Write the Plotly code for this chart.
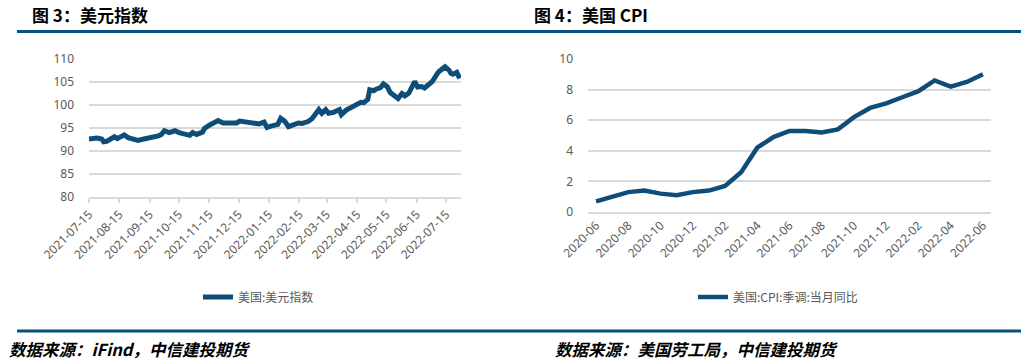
import plotly.graph_objects as go

# ---- Data: US Dollar Index ----
dxy_dates = [
    "2021-07-15", "2021-07-19", "2021-07-23", "2021-07-28", "2021-07-30", "2021-08-02",
    "2021-08-06", "2021-08-10", "2021-08-13", "2021-08-17", "2021-08-20", "2021-08-24",
    "2021-08-30", "2021-09-03", "2021-09-09", "2021-09-14", "2021-09-20", "2021-09-24",
    "2021-09-27", "2021-09-30", "2021-10-05", "2021-10-11", "2021-10-15", "2021-10-21",
    "2021-10-26", "2021-10-29", "2021-11-02", "2021-11-08", "2021-11-10", "2021-11-15",
    "2021-11-19", "2021-11-24", "2021-11-29", "2021-12-03", "2021-12-08", "2021-12-13",
    "2021-12-16", "2021-12-21", "2021-12-27", "2021-12-31", "2022-01-05", "2022-01-10",
    "2022-01-13", "2022-01-17", "2022-01-24", "2022-01-27", "2022-01-31", "2022-02-04",
    "2022-02-09", "2022-02-14", "2022-02-18", "2022-02-24", "2022-02-28", "2022-03-03",
    "2022-03-07", "2022-03-10", "2022-03-14", "2022-03-17", "2022-03-22", "2022-03-28",
    "2022-03-30", "2022-04-04", "2022-04-08", "2022-04-13", "2022-04-15", "2022-04-19",
    "2022-04-22", "2022-04-26", "2022-04-28", "2022-05-02", "2022-05-05", "2022-05-09",
    "2022-05-12", "2022-05-16", "2022-05-19", "2022-05-24", "2022-05-27", "2022-05-31",
    "2022-06-03", "2022-06-07", "2022-06-09", "2022-06-13", "2022-06-16", "2022-06-20",
    "2022-06-23", "2022-06-28", "2022-07-01", "2022-07-06", "2022-07-08", "2022-07-14",
    "2022-07-18", "2022-07-20", "2022-07-22", "2022-07-26", "2022-07-29",
]
dxy_values = [
    92.6, 92.8, 92.8, 92.6, 92.0, 92.1,
    92.6, 93.1, 92.7, 93.0, 93.5, 92.9,
    92.7, 92.3, 92.6, 92.8, 93.3, 93.3,
    93.6, 94.4, 94.0, 94.4, 94.0, 93.6,
    93.4, 94.0, 93.6, 94.1, 94.9, 95.6,
    96.0, 96.6, 96.1, 96.1, 96.3, 96.1,
    96.5, 96.3, 96.0, 96.1, 95.9, 96.3,
    95.1, 95.4, 95.8, 97.1, 96.5, 95.3,
    95.6, 96.1, 96.0, 96.4, 97.0, 97.9,
    99.0, 98.2, 99.0, 98.2, 98.4, 99.0,
    97.9, 98.9, 99.4, 99.9, 100.1, 100.6,
    100.5, 101.2, 103.3, 103.1, 103.5, 103.8,
    104.6, 104.0, 102.7, 101.7, 101.4, 102.5,
    102.0, 102.6, 103.5, 105.1, 103.9, 104.0,
    103.7, 104.6, 105.1, 106.8, 107.3, 108.3,
    107.6, 106.9, 106.7, 107.1, 105.8,
]
dxy_tick_dates = [
    "2021-07-15", "2021-08-15", "2021-09-15", "2021-10-15", "2021-11-15",
    "2021-12-15", "2022-01-15", "2022-02-15", "2022-03-15", "2022-04-15",
    "2022-05-15", "2022-06-15", "2022-07-15",
]

# ---- Data: US CPI YoY, seasonally adjusted ----
cpi_months = [
    "2020-06", "2020-07", "2020-08", "2020-09", "2020-10", "2020-11", "2020-12",
    "2021-01", "2021-02", "2021-03", "2021-04", "2021-05", "2021-06", "2021-07",
    "2021-08", "2021-09", "2021-10", "2021-11", "2021-12", "2022-01", "2022-02",
    "2022-03", "2022-04", "2022-05", "2022-06",
]
cpi_values = [
    0.7, 1.0, 1.3, 1.4, 1.2, 1.1, 1.3,
    1.4, 1.7, 2.6, 4.2, 4.9, 5.3, 5.3,
    5.2, 5.4, 6.2, 6.8, 7.1, 7.5, 7.9,
    8.6, 8.2, 8.5, 9.0,
]
cpi_tick_labels = cpi_months[::2]
cpi_boundaries = [i - 0.5 for i in range(0, len(cpi_months), 2)]

W, H = 1021, 364
LINE = "#0F4D79"
RULE = "#0B5081"
GRID = "#D9D9D9"
TXT = "#595959"
FONT = "Noto Sans, Noto Sans CJK SC, sans-serif"
CJK = "Noto Sans CJK SC, sans-serif"


def px(x):
    return x / W


def py(y):
    return 1 - y / H


fig = go.Figure()
fig.add_trace(go.Scatter(
    x=dxy_dates, y=dxy_values, mode="lines", name="美国:美元指数",
    line=dict(color=LINE, width=5), xaxis="x", yaxis="y", legend="legend",
))
fig.add_trace(go.Scatter(
    x=cpi_months, y=cpi_values, mode="lines", name="美国:CPI:季调:当月同比",
    line=dict(color=LINE, width=4.5), xaxis="x2", yaxis="y2", legend="legend2",
))

axis_common = dict(tickfont=dict(family=FONT, size=12, color=TXT), automargin=False)

fig.update_layout(
    width=W, height=H,
    margin=dict(l=0, r=0, t=0, b=0, pad=0, autoexpand=False),
    paper_bgcolor="white", plot_bgcolor="white",
    showlegend=True,
    xaxis=dict(
        type="date", domain=[px(89), px(461)],
        range=["2021-07-15", "2022-07-30 08:00"],
        tickmode="array", tickvals=dxy_tick_dates, tickformat="%Y-%m-%d",
        tickangle=-45, ticks="outside", ticklen=4, tickcolor=GRID, tickwidth=1.5,
        showgrid=False, showline=True, linecolor=GRID, linewidth=1.5,
        anchor="y", **axis_common,
    ),
    yaxis=dict(
        domain=[py(197), py(59)], range=[80, 110], dtick=5, tick0=80,
        showgrid=True, gridcolor=GRID, gridwidth=1.5, zeroline=False,
        showline=False, ticks="", ticklabelstandoff=14, anchor="x",
        **axis_common,
    ),
    xaxis2=dict(
        type="category", domain=[px(588), px(991)],
        range=[-0.5, len(cpi_months) - 0.5],
        tickmode="array", tickvals=cpi_tick_labels, ticktext=cpi_tick_labels,
        tickangle=-45, ticks="", showgrid=False,
        showline=True, linecolor=GRID, linewidth=1.5,
        anchor="y2", **axis_common,
    ),
    xaxis3=dict(
        overlaying="x2", anchor="y2", range=[-0.5, len(cpi_months) - 0.5],
        tickmode="array", tickvals=cpi_boundaries, showticklabels=False,
        ticks="outside", ticklen=4, tickcolor=GRID, tickwidth=1.5,
        showgrid=False, showline=False, zeroline=False, automargin=False,
    ),
    yaxis2=dict(
        domain=[py(212), py(59)], range=[0, 10], dtick=2, tick0=0,
        showgrid=True, gridcolor=GRID, gridwidth=1.5, zeroline=False,
        showline=False, ticks="", ticklabelstandoff=14, anchor="x2",
        **axis_common,
    ),
    legend=dict(
        x=px(198), y=py(297), xanchor="left", yanchor="middle",
        font=dict(family=CJK, size=12, color=TXT), bgcolor="rgba(0,0,0,0)",
    ),
    legend2=dict(
        x=px(693), y=py(297), xanchor="left", yanchor="middle",
        font=dict(family=CJK, size=12, color=TXT), bgcolor="rgba(0,0,0,0)",
    ),
    shapes=[
        dict(type="line", xref="paper", yref="paper", x0=px(17), x1=1,
             y0=py(31.5), y1=py(31.5), line=dict(color=RULE, width=3)),
        dict(type="line", xref="paper", yref="paper", x0=px(17), x1=1,
             y0=py(331), y1=py(331), line=dict(color=RULE, width=3)),
    ],
    annotations=[
        dict(text="<b>图 3：美元指数</b>", xref="paper", yref="paper",
             x=px(30), y=py(15), xanchor="left", yanchor="middle", showarrow=False,
             font=dict(family=CJK, size=17, color="black")),
        dict(text="<b>图 4：美国 CPI</b>", xref="paper", yref="paper",
             x=px(532), y=py(15), xanchor="left", yanchor="middle", showarrow=False,
             font=dict(family=CJK, size=17, color="black")),
        dict(text="<b><i>数据来源：iFind，中信建投期货</i></b>", xref="paper", yref="paper",
             x=px(7), y=py(349), xanchor="left", yanchor="middle", showarrow=False,
             font=dict(family=CJK, size=16.5, color="black")),
        dict(text="<b><i>数据来源：美国劳工局，中信建投期货</i></b>", xref="paper", yref="paper",
             x=px(553), y=py(349), xanchor="left", yanchor="middle", showarrow=False,
             font=dict(family=CJK, size=16.5, color="black")),
    ],
)

fig.write_html(
    "out.html",
    config={"displayModeBar": False},
    post_script="document.body.style.margin='0px';document.body.style.overflow='hidden';",
)
